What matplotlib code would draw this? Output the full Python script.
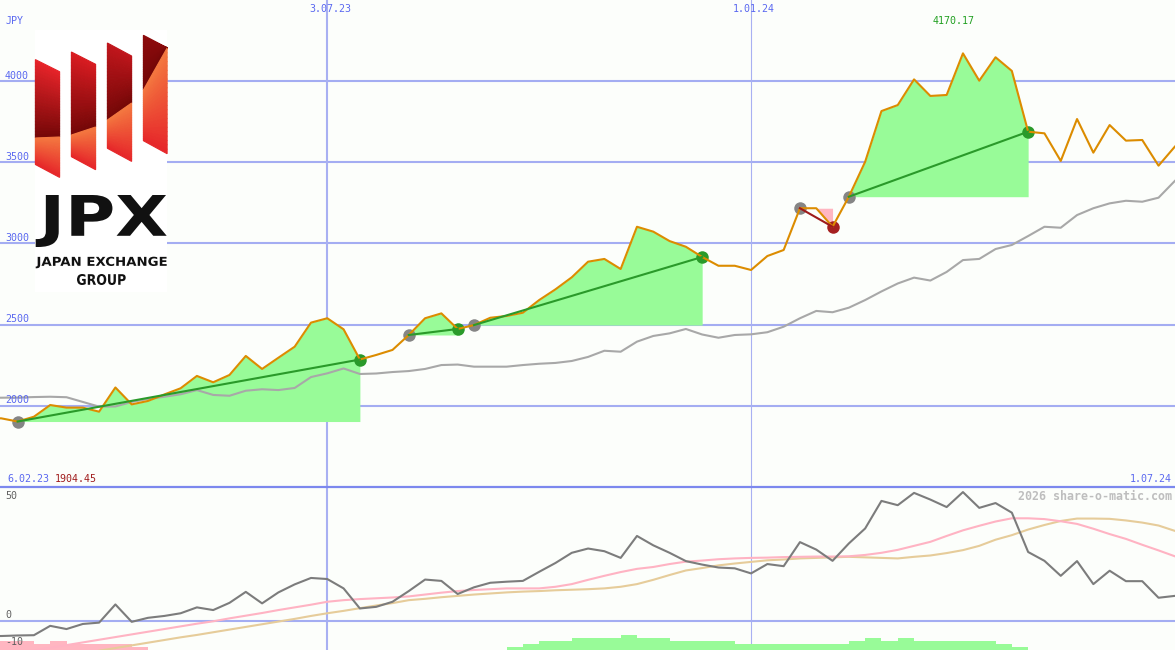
import numpy as np
import matplotlib
matplotlib.use("Agg")
import matplotlib.pyplot as plt
from matplotlib import transforms
from matplotlib.patches import Polygon, Rectangle, PathPatch
from matplotlib.textpath import TextPath
from matplotlib.font_manager import FontProperties
from matplotlib.colors import to_rgb

# weekly closes, week 0 = 6.02.23
price = [1926, 1924, 1904.45, 1934, 2006, 1990, 1990, 1965, 2114, 2010,
         2031, 2071, 2109, 2185, 2146, 2191, 2308, 2228, 2297, 2365,
         2513, 2540, 2472, 2286, 2314, 2345, 2437, 2540, 2570, 2474,
         2498, 2543, 2554, 2574, 2652, 2718, 2792, 2888, 2905, 2843,
         3103, 3073, 3015, 2980, 2917, 2863, 2863, 2837, 2923, 2960,
         3217, 3217, 3103, 3288, 3503, 3815, 3852, 4010, 3908, 3914,
         4170.17, 4002, 4146, 4062, 3688, 3678, 3508, 3766, 3559, 3729,
         3633, 3637, 3479, 3596]
avg = [2051, 2051, 2052, 2055, 2057, 2054, 2025, 1996, 1997, 2025,
       2043, 2057, 2072, 2098, 2068, 2063, 2094, 2103, 2098, 2111,
       2178, 2201, 2231, 2197, 2200, 2209, 2215, 2228, 2252, 2255,
       2242, 2242, 2242, 2252, 2260, 2265, 2277, 2302, 2340, 2334,
       2396, 2431, 2447, 2474, 2440, 2420, 2437, 2441, 2454, 2488,
       2540, 2585, 2577, 2605, 2652, 2705, 2754, 2790, 2772, 2825,
       2898, 2905, 2966, 2991, 3046, 3103, 3097, 3175, 3217, 3247,
       3263, 3257, 3282, 3385]
momentum = [-5.7, -5.7, -5.5, -5.4, -1.9, -3.1, -1.2, -0.7, 6.1, -0.4,
            1.1, 1.8, 2.8, 5.0, 4.0, 6.7, 10.8, 6.5, 10.6, 13.6,
            16.0, 15.6, 12.1, 4.6, 5.2, 7.1, 11.1, 15.4, 14.9, 10.0,
            12.5, 14.2, 14.6, 14.9, 18.3, 21.6, 25.4, 27.0, 26.0, 23.5,
            31.7, 28.2, 25.4, 22.3, 21.0, 19.9, 19.6, 17.7, 21.2, 20.4,
            29.4, 26.6, 22.4, 28.9, 34.5, 44.8, 43.2, 47.8, 45.3, 42.5,
            48.1, 42.2, 44.0, 40.4, 25.7, 22.4, 16.8, 22.3, 13.7, 18.7,
            14.8, 14.8, 8.6, 9.3]
signal_fast = [-14.5, -13.2, -12.2, -11.1, -10.1, -9.1, -8.1, -7.1, -6.1, -5.1,
               -4.1, -3.1, -2.1, -1.1, -0.2, 0.9, 1.9, 2.9, 4.0, 5.0,
               6.0, 7.1, 7.7, 8.1, 8.4, 8.7, 9.1, 9.8, 10.5, 11.1,
               11.5, 11.8, 12.1, 12.1, 12.1, 12.7, 13.7, 15.3, 16.8, 18.2,
               19.4, 20.1, 21.2, 22.1, 22.5, 23.0, 23.3, 23.5, 23.6, 23.8,
               23.9, 24.0, 24.0, 24.1, 24.6, 25.4, 26.5, 28.0, 29.5, 31.7,
               33.8, 35.5, 37.1, 38.3, 38.3, 38.0, 37.2, 36.2, 34.4, 32.4,
               30.6, 28.4, 26.3, 24.1]
signal_slow = [-18.1, -17.1, -16.1, -15.1, -14.1, -13.1, -12.2, -11.2, -10.2, -9.2,
               -8.2, -7.2, -6.2, -5.3, -4.3, -3.3, -2.3, -1.3, -0.3, 0.7,
               1.8, 2.8, 3.7, 4.7, 5.7, 6.6, 7.7, 8.2, 8.8, 9.3,
               9.8, 10.2, 10.6, 10.9, 11.1, 11.4, 11.6, 11.8, 12.1, 12.7,
               13.7, 15.3, 17.1, 18.8, 19.7, 20.7, 21.4, 22.0, 22.6, 22.9,
               23.3, 23.5, 23.7, 23.9, 23.7, 23.5, 23.3, 23.9, 24.4, 25.3,
               26.4, 28.0, 30.3, 32.0, 34.1, 35.8, 37.3, 38.2, 38.2, 38.1,
               37.5, 36.7, 35.6, 33.6]
# step histogram, negative = pink, positive = green
hist = ([-3, -3, -3, -2, -3, -2, -2, -2, -2, -1] + [0] * 22 +
        [1, 2, 3, 3, 4, 4, 4, 5, 4, 4, 3, 3, 3, 3, 2, 2,
         2, 2, 2, 2, 2, 3, 4, 3, 4, 3, 3, 3, 3, 3, 2, 1] + [0] * 10)
trades = [(2, 23), (26, 29), (30, 44), (50, 52), (53, 64)]
price_grid = [2000, 2500, 3000, 3500, 4000]
osc_grid = [0]
osc_labels = [50, 0, -10]
date_lines = {21: "3.07.23", 47: "1.01.24"}
start_label, end_label = "6.02.23", "1.07.24"

BG = "#FCFEFB"
GRID = "#A4ADF2"
SEP = "#7C88EE"
BLUE = "#5A68F0"
MONO = "DejaVu Sans Mono"

weeks = np.arange(len(price))
price = np.array(price)

W, H, TOP = 1175, 650, 487
fig = plt.figure(figsize=(W / 100, H / 100), dpi=100)
fig.patch.set_facecolor(BG)
ax = fig.add_axes([0, (H - TOP) / H, 1, TOP / H])
lo = fig.add_axes([0, 0, 1, (H - TOP) / H])
for a in (ax, lo):
    a.set_axis_off()
    a.set_xlim(0.92, 73.01)
ax.set_ylim(1501.5, 4498.5)
lo.set_ylim(-10.93, 50)

# grid
for v in price_grid:
    ax.axhline(v, color=GRID, lw=1.5, zorder=1)
for a in (ax, lo):
    a.axvline(21, color="#A8B0F2", lw=1.5, zorder=1)
    a.axvline(47, color="#A8B0F2", lw=0.8, zorder=1)
for v in osc_grid:
    lo.axhline(v, color=GRID, lw=1.5, zorder=1)
lo.axhline(50, color=SEP, lw=1.6, clip_on=False, zorder=1)

# trades
for a, b in trades:
    xs, ps, p0 = weeks[a:b + 1], price[a:b + 1], price[a]
    win = price[b] >= p0
    if win:
        ax.fill_between(xs, ps, p0, where=ps >= p0, interpolate=True,
                        color="#98FB98", lw=0, zorder=2)
    else:
        ax.fill_between(xs, ps, p0, where=ps <= p0, interpolate=True,
                        color="#FFB6C1", lw=0, zorder=2)
    ax.plot([a, b], [p0, price[b]], color="#2A9A2A" if win else "#9E1A1A",
            lw=1.5, zorder=6)
    ax.plot(a, p0, "o", color="#858585", ms=9, mew=0, zorder=4)
    ax.plot(b, price[b], "o", color="#2A9A2A" if win else "#A52020",
            ms=9, mew=0, zorder=4)

ax.plot(weeks, avg, color="#A8A8A8", lw=1.5, zorder=3)
ax.plot(weeks, price, color="#DC8C00", lw=1.5, zorder=5)

# labels, upper panel
top = transforms.blended_transform_factory(ax.transData, ax.transAxes)
for v in price_grid:
    ax.annotate(str(v), xy=(0, v), xycoords=("axes fraction", "data"),
                xytext=(3.6, 1.8), textcoords="offset points",
                color=BLUE, family=MONO, fontsize=7.2, va="baseline")
ax.annotate("JPY", xy=(0, 1), xycoords="axes fraction", xytext=(4.3, -15),
            textcoords="offset points", color=BLUE, family=MONO,
            fontsize=7.2, va="center")
for wk, lab in date_lines.items():
    ax.annotate(lab, xy=(wk, 1), xycoords=top, xytext=(2, -6.5),
                textcoords="offset points", color=BLUE, family=MONO,
                fontsize=7.2, ha="center", va="center")
imax = int(np.argmax(price))
ax.annotate(f"{price[imax]:.2f}", xy=(imax, 1), xycoords=top,
            xytext=(-6.5, -15), textcoords="offset points", color="#22A022",
            family=MONO, fontsize=7.2, ha="center", va="center")
ax.annotate(start_label, xy=(0, 0), xycoords="axes fraction", xytext=(5, 5.8),
            textcoords="offset points", color=BLUE, family=MONO,
            fontsize=7.2, va="center")
ax.annotate(f"{price.min():.2f}", xy=(0, 0), xycoords="axes fraction",
            xytext=(39.6, 5.8), textcoords="offset points", color="#A01C1C",
            family=MONO, fontsize=7.2, va="center")
ax.annotate(end_label, xy=(1, 0), xycoords="axes fraction", xytext=(-2, 5.8),
            textcoords="offset points", color=BLUE, family=MONO,
            fontsize=7.2, ha="right", va="center")

# oscillator panel
bar_unit = 1.12
hist = np.array(hist)
lo.bar(weeks, np.abs(hist) * bar_unit, width=1, align="edge", bottom=-10.93,
       color=np.where(hist < 0, "#FFB6C1", "#98FB98"), lw=0, zorder=2)
lo.plot(weeks, signal_slow, color="#E6CC9A", lw=1.5, zorder=3)
lo.plot(weeks, signal_fast, color="#FFB3C3", lw=1.5, zorder=3)
lo.plot(weeks, momentum, color="#7C7C7C", lw=1.5, zorder=4)
for v in osc_labels:
    if v == 50:
        off, va = (3.6, -6.5), "center"
    else:
        off, va = (3.6, 1.8), "baseline"
    lo.annotate(str(v), xy=(0, v), xycoords=("axes fraction", "data"),
                xytext=off, textcoords="offset points", color="#606060",
                family=MONO, fontsize=7.2, va=va, annotation_clip=False)
lo.annotate("2026 share-o-matic.com", xy=(1, 1), xycoords="axes fraction",
            xytext=(-2.2, -6.5), textcoords="offset points", color="#BEBEBE",
            family=MONO, fontsize=8.4, weight="bold", ha="right", va="center")

# JPX logo, drawn in pixel space
lg = fig.add_axes([0, 0, 1, 1])
lg.set_xlim(0, W)
lg.set_ylim(H, 0)
lg.set_axis_off()
lg.add_patch(Rectangle((35, 30), 132, 262, fc="white", ec="none"))


def shaded(xl, xr, yl0, yr0, yl1, yr1, c0, c1, n=24):
    # gradient along a slanted stripe, built from thin slices
    c0, c1 = np.array(to_rgb(c0)), np.array(to_rgb(c1))
    for k in range(n):
        t0, t1 = k / n, (k + 1) / n
        pts = [(xl, yl0 + t0 * (yl1 - yl0)), (xr, yr0 + t0 * (yr1 - yr0)),
               (xr, yr0 + t1 * (yr1 - yr0)), (xl, yl0 + t1 * (yl1 - yl0))]
        c = c0 + (k + 0.5) / n * (c1 - c0)
        lg.add_patch(Polygon(pts, closed=True, fc=c, ec=c, lw=0.8,
                             joinstyle="miter"))


# x left, x right, top l/r, arc l/r, bottom l/r, top colour
stripes = [
    (35.4, 59.6, 59.6, 71.7, 138, 137, 164.5, 177.4, "#E8242A"),
    (71.4, 95.6, 52, 64.3, 135, 127, 156.7, 169.7, "#DA1C22"),
    (107.4, 131.6, 43, 56, 120, 103, 148.3, 161.4, "#C2161C"),
    (143.4, 167.1, 35.3, 47.7, 90, 48, 140.7, 153.7, "#8C0A0C"),
]
for xl, xr, tl, tr, al, ar, bl, br, ctop in stripes:
    shaded(xl, xr, tl, tr, al, ar, ctop, "#740707")
    shaded(xl, xr, al, ar, bl, br, "#F47A40", "#E6262A")


def fitted_text(s, x0, x1, y0, y1):
    tp = TextPath((0, 0), s, size=10,
                  prop=FontProperties(family="DejaVu Sans", weight="bold"))
    e = tp.get_extents()
    tr = (transforms.Affine2D().translate(-e.x0, -e.y0)
          .scale((x1 - x0) / e.width, -(y1 - y0) / e.height).translate(x0, y1))
    lg.add_patch(PathPatch(tr.transform_path(tp), fc="#111111", lw=0))


fitted_text("JPX", 35.7, 166.7, 195, 247)
fitted_text("JAPAN EXCHANGE", 35.7, 166.7, 256.7, 268.3)
fitted_text("GROUP", 77, 125.7, 274, 285)

fig.savefig("out.png", dpi=100, facecolor=BG)
